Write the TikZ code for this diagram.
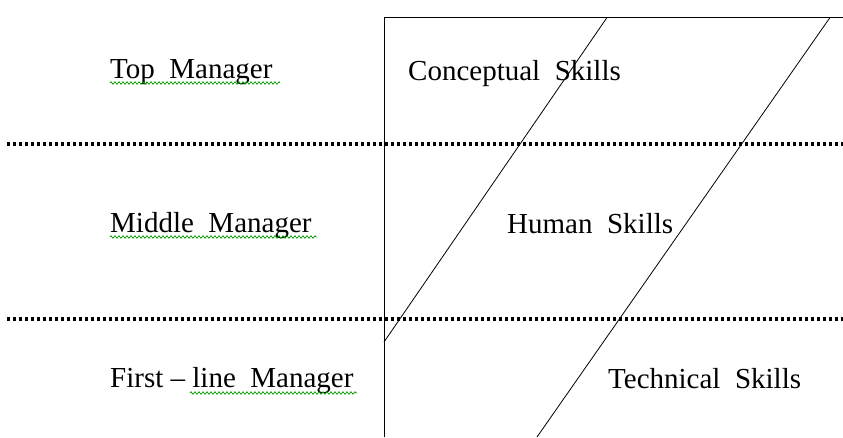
\documentclass[tikz,border=0pt]{standalone}
\usepackage{fontspec}
\setmainfont{Liberation Serif}
\usetikzlibrary{decorations.pathmorphing}
\begin{document}
\begin{tikzpicture}[x=1pt,y=-1pt,
  lbl/.style={anchor=base west,inner sep=0pt,font=\fontsize{29}{32}\selectfont},
  solidline/.style={line width=1pt,black},
  dotline/.style={line width=3.2pt,black,dash pattern=on 3.2pt off 2.8pt},
  squiggle/.style={draw=green!60!black,line width=0.7pt,decorate,decoration={zigzag,amplitude=1.3pt,segment length=4pt}}]
\useasboundingbox (0,0) rectangle (843,437);
% frame
\coordinate (vt) at (384,17.5);
\coordinate (vb) at (384,437);
\coordinate (tr) at (843,17.5);
\draw[solidline] (vb) -- (vt) -- (tr);
% diagonals
\coordinate (d1t) at (607,17.5);
\coordinate (d1b) at (384,342);
\coordinate (d2t) at (830,17.5);
\coordinate (d2b) at (537,437);
\draw[solidline,line width=0.8pt] (d1t) -- (d1b);
\draw[solidline,line width=0.8pt] (d2t) -- (d2b);
% dotted separators
\coordinate (s1l) at (7,144);
\coordinate (s1r) at (843,144);
\coordinate (s2l) at (7,319);
\coordinate (s2r) at (843,319);
\draw[dotline] (s1l) -- (s1r);
\draw[dotline] (s2l) -- (s2r);
% labels
\node[lbl] (top) at (110,78) {Top~~Manager};
\node[lbl] (mid) at (110,232) {Middle~~Manager};
\node[lbl] (first) at (110,387) {First – line~~Manager};
\node[lbl] (con) at (408,80) {Conceptual~~Skills};
\node[lbl] (hum) at (507,233) {Human~~Skills};
\node[lbl] (tec) at (608,388) {Technical~~Skills};
% grammar squiggles
\coordinate (q1a) at (110,83); \coordinate (q1b) at (280,83);
\coordinate (q2a) at (110,237); \coordinate (q2b) at (317,237);
\coordinate (q3a) at (190,393); \coordinate (q3b) at (357,393);
\draw[squiggle] (q1a) -- (q1b);
\draw[squiggle] (q2a) -- (q2b);
\draw[squiggle] (q3a) -- (q3b);
\end{tikzpicture}
\end{document}
